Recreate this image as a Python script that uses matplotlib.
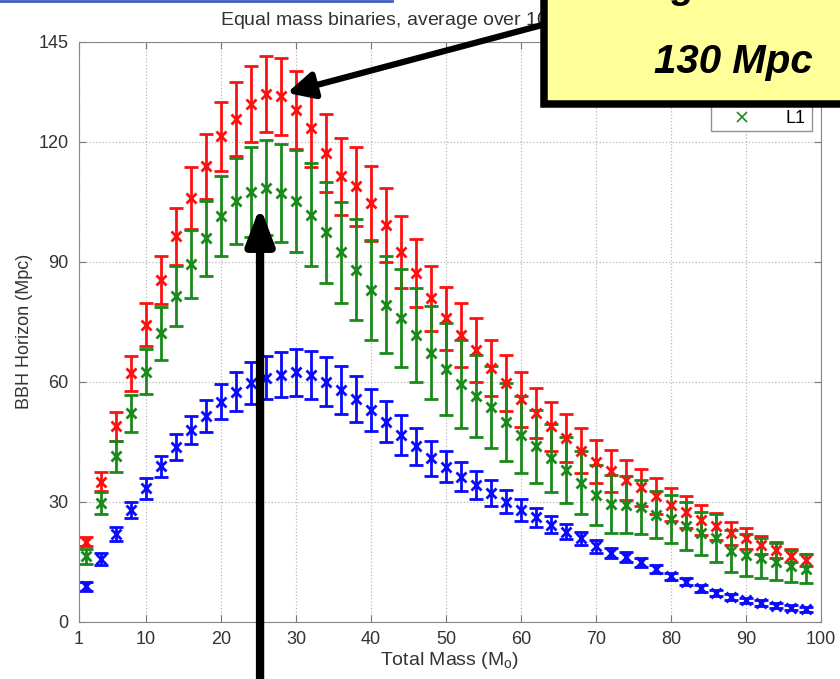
import numpy as np
import matplotlib
matplotlib.use("Agg")
import matplotlib.pyplot as plt
from matplotlib.lines import Line2D
from matplotlib.patches import Rectangle

plt.rcParams['font.family'] = ['Liberation Sans', 'DejaVu Sans']
plt.rcParams['mathtext.default'] = 'regular'

# total mass of the binary (solar masses)
mass = np.arange(2, 100, 2)

# H1 (red)
h1_range = [20.0, 35.0, 48.8, 62.1, 74.2, 85.4, 96.3, 105.9, 113.8, 121.3,
            125.7, 129.4, 131.9, 131.3, 127.9, 123.3, 117.1, 111.3, 108.8, 104.6,
            99.2, 92.5, 87.1, 80.8, 75.8, 71.7, 67.9, 63.3, 59.6, 55.6,
            52.2, 48.8, 45.9, 42.7, 40.0, 37.6, 35.5, 33.6, 31.4, 29.2,
            27.5, 25.4, 23.8, 22.1, 20.8, 19.2, 17.9, 16.5, 15.4]
h1_err = [1.2, 2.4, 3.6, 4.4, 5.4, 6.1, 7.2, 7.8, 8.2, 8.7,
          9.2, 9.4, 9.6, 9.7, 9.8, 9.7, 9.8, 9.7, 9.9, 9.4,
          9.2, 9.0, 8.5, 8.1, 7.9, 8.0, 7.9, 7.0, 7.0, 6.9,
          6.3, 6.2, 5.9, 5.6, 5.4, 5.2, 5.0, 4.6, 4.4, 4.1,
          4.0, 3.8, 3.4, 2.9, 2.6, 2.2, 1.9, 1.7, 1.5]

# H2 (blue)
h2_range = [8.8, 15.7, 21.9, 27.9, 33.3, 38.8, 43.6, 47.9, 51.4, 55.0,
            57.5, 59.6, 61.0, 61.7, 62.3, 61.7, 60.0, 57.9, 55.7, 52.9,
            50.0, 46.7, 43.8, 40.8, 38.7, 36.2, 34.2, 32.1, 30.0, 27.9,
            26.1, 24.2, 22.5, 20.8, 18.8, 17.1, 16.1, 14.8, 13.1, 11.3,
            10.0, 8.3, 7.1, 6.1, 5.3, 4.6, 4.0, 3.5, 3.1]
h2_err = [1.2, 1.5, 1.7, 2.1, 2.6, 2.6, 3.2, 3.6, 4.1, 4.4,
          4.8, 5.2, 5.4, 5.6, 5.8, 6.0, 6.2, 6.1, 5.7, 5.2,
          5.2, 5.0, 4.6, 4.4, 3.9, 3.6, 3.5, 3.2, 2.9, 2.7,
          2.4, 2.1, 1.9, 1.7, 1.7, 1.3, 1.3, 1.1, 1.0, 0.9,
          0.9, 0.8, 0.8, 0.7, 0.7, 0.7, 0.6, 0.6, 0.6]

# L1 (green)
l1_range = [16.3, 29.6, 41.3, 52.1, 62.5, 72.1, 81.3, 89.3, 95.8, 101.3,
            105.1, 107.4, 108.5, 107.1, 105.2, 101.7, 97.3, 92.3, 88.0, 82.9,
            79.2, 75.9, 71.7, 67.2, 63.1, 59.5, 56.4, 53.6, 49.9, 46.7,
            43.8, 40.8, 37.9, 34.7, 31.7, 29.4, 29.2, 28.7, 26.7, 25.7,
            24.0, 22.1, 20.9, 17.7, 16.6, 15.8, 15.0, 14.0, 13.2]
l1_err = [1.9, 2.7, 3.8, 4.6, 5.6, 6.6, 7.5, 8.5, 9.4, 10.0,
          10.7, 11.2, 11.8, 12.3, 12.7, 12.9, 12.7, 12.7, 12.6, 12.5,
          12.1, 12.2, 11.7, 11.6, 11.5, 11.0, 10.3, 10.2, 9.7, 9.6,
          9.1, 8.5, 8.3, 7.9, 7.5, 7.3, 7.1, 6.8, 5.9, 6.0,
          6.0, 5.4, 5.9, 5.2, 5.2, 5.0, 4.6, 4.0, 3.6]

detectors = ['H1', 'H2', 'L1']
colors = ['#ff1010', '#0a0aff', '#1a8a1a']
xticks = [1, 10, 20, 30, 40, 50, 60, 70, 80, 90, 100]
yticks = [0, 30, 60, 90, 120, 145]

fig = plt.figure(figsize=(8.4, 6.79), dpi=100)
ax = fig.add_axes([0.0935, 0.0844, 0.884, 0.8542])

series = [(h1_range, h1_err), (h2_range, h2_err), (l1_range, l1_err)]
for (vals, errs), c, name in zip(series, colors, detectors):
    ax.errorbar(mass, vals, yerr=errs, fmt='x', color=c, ecolor=c,
                elinewidth=2, capsize=5, capthick=2, markersize=7, mew=2,
                label=name)

ax.set_xlim(1, 100)
ax.set_ylim(0, 145)
ax.set_xticks(xticks)
ax.set_yticks(yticks)
ax.grid(True, linestyle=':', color='#b8b8b8', linewidth=0.9)
ax.tick_params(direction='in', top=True, right=True, length=5, color='#777777',
               labelcolor='#333333', labelsize=13, pad=7)
for sp in ax.spines.values():
    sp.set_color('#888888')

ax.set_xlabel('Total Mass (M$_o$)', fontsize=14, color='#333333', labelpad=1)
ax.set_ylabel('BBH Horizon (Mpc)', fontsize=13, color='#333333', labelpad=4)
ax.text(220 / 840, 1 - 25 / 679,
        'Equal mass binaries, average over 10$^5$ sky locations',
        transform=fig.transFigure, fontsize=14, color='#333333',
        ha='left', va='baseline', clip_on=False)

handles = [Line2D([], [], ls='none', marker='x', color=c, markersize=7, mew=1.2)
           for c in colors]
leg = ax.legend(handles, detectors, loc='upper right', fontsize=13,
                fancybox=False, edgecolor='#777777', borderaxespad=0.5,
                labelspacing=0.6, borderpad=0.22, handlelength=3.0,
                handletextpad=0.9)
leg.get_frame().set_linewidth(1.0)

# arrows pointing at the peaks
ax.annotate('', xy=(28.8, 132.2), xycoords='data',
            xytext=(546, 679 - 24), textcoords='figure pixels',
            arrowprops=dict(arrowstyle='-|>,head_length=0.8,head_width=0.4',
                            lw=4.5, color='black', mutation_scale=20,
                            shrinkA=0, shrinkB=0))
ax.annotate('', xy=(25.2, 103.8), xycoords='data',
            xytext=(25.2, -0.15), textcoords=ax.get_xaxis_transform(),
            arrowprops=dict(arrowstyle='-|>,head_length=1.0,head_width=0.38',
                            lw=6, color='black', mutation_scale=22,
                            shrinkA=0, shrinkB=0))

# slide decorations: header rule and yellow call-out box
fig.add_artist(Line2D([0, 392 / 840], [1 - 1 / 679] * 2, transform=fig.transFigure,
                      color='#4060c0', lw=2))
fig.add_artist(Rectangle((544 / 840, 1 - 104 / 679), 0.5, 0.5,
                         transform=fig.transFigure, facecolor='#ffff99',
                         edgecolor='black', lw=5.4, zorder=5))
fig.text(598 / 840, 1 + 2 / 679, 'Range', ha='left', va='baseline',
         fontsize=28, fontweight='bold', fontstyle='italic', zorder=6)
fig.text(733 / 840, 1 - 73 / 679, '130 Mpc', ha='center', va='baseline',
         fontsize=29, fontweight='bold', fontstyle='italic', zorder=6)

fig.savefig('out.png', dpi=100)
